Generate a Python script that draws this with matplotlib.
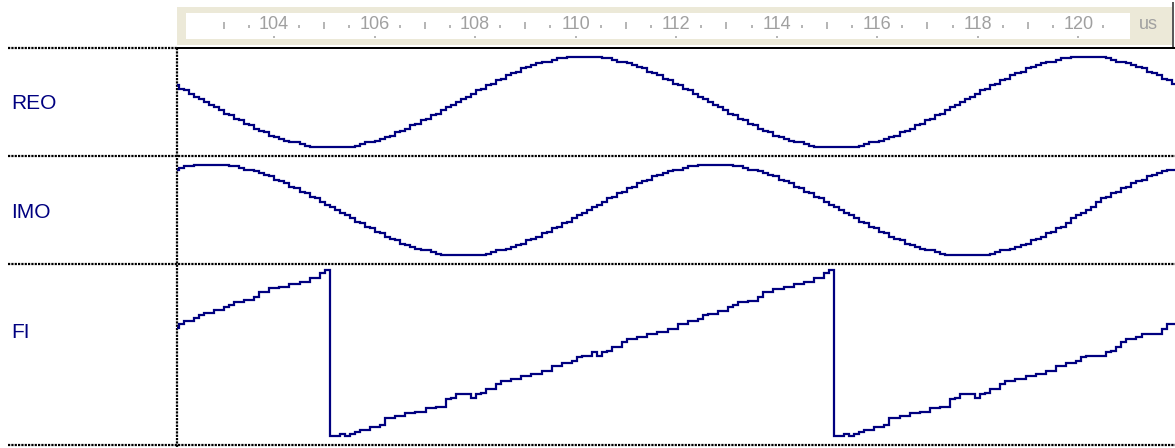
import numpy as np
import matplotlib
matplotlib.use("Agg")
import matplotlib.pyplot as plt
from matplotlib.patches import Rectangle

# sample grid of the simulation (us)
t_start = 102.0
t_step = 0.1
x_range = (102.07, 121.864)

# REO / IMO sample values (LSB), FI sample values (phase counts)
reo = [10, 8, 7, 5, 3, 2, 0, -2, -3, -5,
       -7, -8, -10, -11, -13, -14, -16, -17, -18, -20,
       -21, -22, -23, -24, -24, -25, -26, -27, -27, -27,
       -27, -27, -27, -27, -27, -27, -26, -25, -24, -24,
       -23, -22, -21, -20, -18, -17, -16, -14, -13, -11,
       -10, -8, -7, -5, -3, -2, 0, 2, 3, 5,
       7, 8, 10, 11, 13, 14, 16, 17, 18, 20,
       21, 22, 23, 24, 24, 25, 26, 26, 27, 27,
       27, 27, 27, 27, 27, 26, 26, 25, 24, 24,
       23, 22, 21, 20, 18, 17, 16, 14, 13, 11,
       10, 8, 7, 5, 3, 2, 0, -2, -3, -5,
       -7, -8, -10, -11, -13, -14, -16, -17, -18, -20,
       -21, -22, -23, -24, -24, -25, -26, -27, -27, -27,
       -27, -27, -27, -27, -27, -27, -26, -25, -24, -24,
       -23, -22, -21, -20, -18, -17, -16, -14, -13, -11,
       -10, -8, -7, -5, -3, -2, 0, 2, 3, 5,
       7, 8, 10, 11, 13, 14, 16, 17, 18, 20,
       21, 22, 23, 24, 24, 25, 26, 26, 27, 27,
       27, 27, 27, 27, 27, 26, 25, 24, 24, 23,
       22, 21, 20, 18, 17, 16, 14, 13, 11, 10]

imo = [24, 25, 26, 26, 27, 27, 27, 27, 27, 27,
       27, 26, 26, 25, 24, 24, 23, 22, 21, 20,
       18, 17, 16, 14, 13, 11, 10, 8, 7, 5,
       3, 2, 0, -2, -3, -5, -7, -8, -10, -11,
       -13, -14, -16, -17, -18, -20, -21, -22, -23, -24,
       -24, -25, -26, -27, -27, -27, -27, -27, -27, -27,
       -27, -27, -26, -25, -24, -24, -23, -22, -21, -20,
       -18, -17, -16, -14, -13, -11, -10, -8, -7, -5,
       -3, -2, 0, 2, 3, 5, 7, 8, 10, 11,
       13, 14, 16, 17, 18, 20, 21, 22, 23, 24,
       24, 25, 26, 26, 27, 27, 27, 27, 27, 27,
       27, 26, 26, 25, 24, 24, 23, 22, 21, 20,
       18, 17, 16, 14, 13, 11, 10, 8, 7, 5,
       3, 2, 0, -2, -3, -5, -7, -8, -10, -11,
       -13, -14, -16, -17, -18, -20, -21, -22, -23, -24,
       -24, -25, -26, -27, -27, -27, -27, -27, -27, -27,
       -27, -27, -26, -25, -24, -24, -23, -22, -21, -20,
       -18, -17, -16, -14, -13, -11, -10, -8, -5, -3,
       -2, 0, 2, 5, 7, 8, 10, 11, 13, 14,
       16, 17, 18, 20, 21, 22, 23, 24, 24, 25]

fi = [108, 112, 115, 115, 118, 121, 123, 123, 126, 126,
      129, 131, 134, 134, 136, 136, 139, 144, 144, 148,
      148, 149, 149, 152, 152, 154, 154, 158, 158, 163,
      166, 0, 0, 2, 0, 2, 4, 6, 6, 9,
      9, 11, 18, 18, 20, 20, 23, 23, 24, 24,
      28, 28, 29, 29, 37, 38, 42, 42, 42, 38,
      42, 43, 47, 47, 52, 55, 55, 57, 57, 60,
      60, 62, 62, 65, 65, 70, 70, 73, 73, 75,
      79, 80, 80, 84, 80, 84, 85, 89, 89, 94,
      97, 97, 99, 99, 102, 102, 104, 104, 107, 107,
      112, 112, 115, 115, 117, 121, 122, 122, 125, 125,
      129, 131, 134, 134, 135, 135, 139, 144, 144, 147,
      147, 149, 149, 152, 152, 154, 154, 158, 158, 163,
      166, 0, 0, 2, 0, 2, 4, 6, 6, 9,
      9, 11, 18, 18, 20, 20, 23, 23, 24, 24,
      28, 28, 29, 29, 37, 38, 42, 42, 42, 38,
      42, 43, 47, 47, 52, 55, 55, 57, 57, 60,
      60, 62, 62, 65, 65, 70, 70, 73, 73, 75,
      79, 80, 80, 80, 80, 84, 85, 89, 94, 97,
      97, 99, 102, 102, 102, 102, 107, 112, 112, 112]

ruler_labels = [104, 106, 108, 110, 112, 114, 116, 118, 120]
ruler_odd = [103, 105, 107, 109, 111, 113, 115, 117, 119]
ruler_half = [103.5, 104.5, 105.5, 106.5, 107.5, 108.5, 109.5, 110.5, 111.5,
              112.5, 113.5, 114.5, 115.5, 116.5, 117.5, 118.5, 119.5, 120.5]
ruler_unit = "us"

names = ["REO", "IMO", "FI"]

W, H = 1175, 448
WAVE = "#000080"
GRAY = "#a0a0a0"
FONT = ["Liberation Sans", "DejaVu Sans"]


def box(x0, y0, x1, y1):
    return [x0 / W, 1 - y1 / H, (x1 - x0) / W, (y1 - y0) / H]


fig = plt.figure(figsize=(W / 100, H / 100), dpi=100)

# pixel-space background for the grid lines and names
bg = fig.add_axes([0, 0, 1, 1])
bg.set_xlim(0, W)
bg.set_ylim(H, 0)
bg.set_axis_off()

dots = dict(color="black", lw=1.6, linestyle=(0, (1, 0.5)))
bg.plot([8, 177], [48, 48], **dots)
for yy in [156, 264, 445]:
    bg.plot([8, W], [yy, yy], **dots)
bg.plot([176.5, 176.5], [48, H], **dots)
bg.plot([177, W], [48, 48], color="black", lw=1.44, solid_capstyle="butt")
bg.plot([1173, 1173], [2, 47], color="#5a5a5a", lw=1.44, solid_capstyle="butt")

for name, yb in zip(names, [109, 218, 338]):
    bg.text(11, yb, name, color=WAVE, fontsize=15, family=FONT,
            ha="left", va="baseline")

# time ruler
ruler = fig.add_axes(box(177, 7, 1172, 45))
ruler.set_xlim(x_range)
ruler.set_ylim(45, 7)
ruler.set_facecolor("#ECE9D8")
ruler.set_xticks([])
ruler.set_yticks([])
for s in ruler.spines.values():
    s.set_visible(False)
ruler.add_patch(Rectangle((0.009, 13), 0.949, 26, transform=ruler.get_yaxis_transform(),
                          facecolor="white", edgecolor="none"))
ruler.vlines(ruler_odd, 22.5, 29.5, color=GRAY, lw=1.1)
ruler.vlines(ruler_half, 25, 28, color=GRAY, lw=1.1)
ruler.vlines(ruler_labels, 36.5, 38.5, color=GRAY, lw=1.1)
for v in ruler_labels:
    ruler.text(v, 24.5, str(v), color=GRAY, fontsize=13, family=FONT,
               ha="center", va="center")
ruler.text(0.976, 24.5, ruler_unit, transform=ruler.get_yaxis_transform(), color=GRAY,
           fontsize=13, family=FONT, ha="center", va="center")

# waveform rows
t = t_start + t_step * np.arange(len(reo))
rows = [(reo, 48, 156, (-32.18, 32.18)),
        (imo, 156, 264, (-32.18, 32.18)),
        (fi, 264, 445, (-8.7, 172.3))]
for vals, y0, y1, lim in rows:
    ax = fig.add_axes(box(177, y0, W, y1))
    ax.set_xlim(x_range)
    ax.set_ylim(lim)
    ax.set_axis_off()
    ax.plot(t, vals, drawstyle="steps-post", color=WAVE, lw=1.6,
            solid_joinstyle="miter")

fig.savefig("out.png", dpi=100)
